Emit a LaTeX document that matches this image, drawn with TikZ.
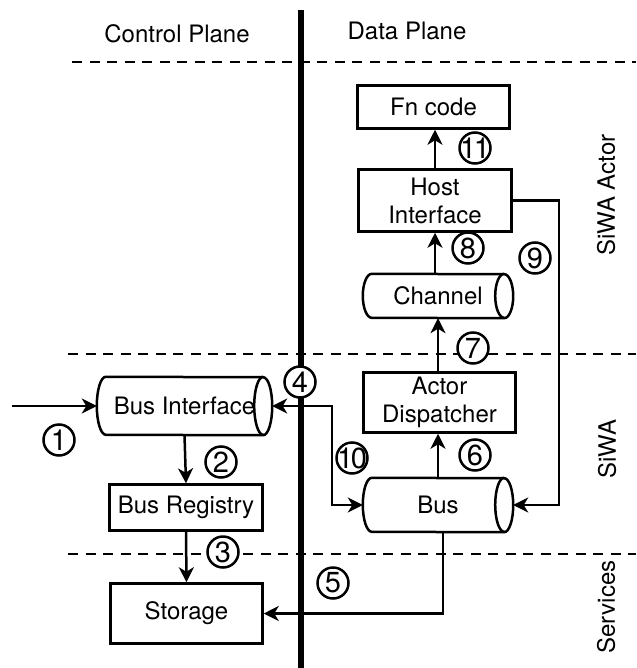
\documentclass[tikz,border=0pt]{standalone}
\usepackage{fontspec}
\setmainfont{TeX Gyre Heros}
\usetikzlibrary{arrows.meta}
\newcommand\drawhcyl[2]{%
  \draw[bline] ([xshift=9pt]#1.north west) arc[start angle=90,end angle=270,x radius=9pt,y radius=#2]
    -- ([xshift=-9pt]#1.south east) arc[start angle=270,end angle=450,x radius=9pt,y radius=#2] -- cycle;
  \draw[bline] ([xshift=-9pt]#1.north east) arc[start angle=90,end angle=270,x radius=9pt,y radius=#2];
}
\begin{document}
\begin{tikzpicture}[x=1pt,y=-1pt,
  bline/.style={line width=2.5pt},
  conn/.style={bline,-{Stealth[length=15pt,width=15pt,inset=4.5pt]}},
  connboth/.style={bline,{Stealth[length=15pt,width=15pt,inset=4.5pt]}-{Stealth[length=15pt,width=15pt,inset=4.5pt]}},
  txt/.style={font=\fontsize{24}{28}\selectfont},
  procbox/.style={txt,draw,bline,rectangle,inner sep=0pt,align=center},
  cylnode/.style={txt,rectangle,inner sep=0pt,align=center},
  badge/.style={font=\fontsize{29}{32}\selectfont,circle,draw,bline,fill=white,minimum size=31pt,inner sep=0pt},
  divider/.style={line width=2.5pt,dash pattern=on 10pt off 7.5pt},
  wall/.style={line width=6pt}]
\useasboundingbox (0,0) rectangle (636,668);

% dividers and wall
\draw[divider] (72,62) -- (636,62);
\draw[divider] (68,354) -- (636,354);
\draw[divider] (68,554) -- (636,554);
\draw[wall] (301,10) -- (301,668);

% labels
\node[txt] (cp) at (177,34) {Control Plane};
\node[txt] (dp) at (407,31) {Data Plane};
\node[txt,rotate=90] (la) at (606,195) {SiWA Actor};
\node[txt,rotate=90] (ls) at (607,449) {SiWA};
\node[txt,rotate=90] (lv) at (606,607) {Services};

% nodes
\node[procbox,minimum width=152pt,minimum height=43pt] (fn) at (433.5,107) {Fn code};
\node[procbox,minimum width=153pt,minimum height=62pt] (hi) at (435,200.5) {Host\\Interface};
\node[cylnode,minimum width=150pt,minimum height=44pt] (ch) at (438,296) {Channel};
\node[procbox,minimum width=152pt,minimum height=60pt] (ad) at (439.5,402.5) {Actor\\Dispatcher};
\node[cylnode,minimum width=150pt,minimum height=54pt] (bus) at (438,505) {Bus};
\node[cylnode,minimum width=175pt,minimum height=58pt] (bi) at (184.5,406) {Bus Interface};
\node[procbox,minimum width=153pt,minimum height=46pt] (br) at (186,507.5) {Bus Registry};
\node[procbox,minimum width=152pt,minimum height=60pt] (st) at (186.5,613.5) {Storage};

\drawhcyl{ch}{22pt}
\drawhcyl{bus}{27pt}
\drawhcyl{bi}{29pt}

% connectors
\coordinate (src) at (12,406);
\draw[conn] (src) -- (bi.west);
\draw[conn] (bi.south) -- (br.north);
\draw[conn] (br.south) -- (st.north);
\coordinate (k10) at (332,406);
\draw[connboth] (bi.east) -- (k10) |- (bus.west);
\draw[conn] ([xshift=5pt]bus.south) |- (st.east);
\draw[conn] (bus.north) -- (bus.north |- ad.south);
\draw[conn] (ch.south |- ad.north) -- (ch.south);
\draw[conn] (hi.south |- ch.north) -- (hi.south);
\draw[conn] (hi.north) -- (hi.north |- fn.south);
\coordinate (k9) at (559,200.5);
\draw[conn] (hi.east) -- (k9) |- (bus.east);

% step numbers
\node[badge] (n1) at (59,440) {1};
\node[badge] (n2) at (221,462) {2};
\node[badge] (n3) at (223,552) {3};
\node[badge] (n4) at (300,382) {4};
\node[badge] (n5) at (333,583) {5};
\node[badge] (n6) at (475,455) {6};
\node[badge] (n7) at (473,348) {7};
\node[badge] (n8) at (468,248) {8};
\node[badge] (n9) at (535,258) {9};
\node[badge,minimum size=31pt,inner sep=-3pt] (n10) at (352,458) {1\kern-2.5pt0};
\node[badge,minimum size=31pt,inner sep=-3pt] (n11) at (475,148) {1\kern-2.5pt1};
\end{tikzpicture}
\end{document}
